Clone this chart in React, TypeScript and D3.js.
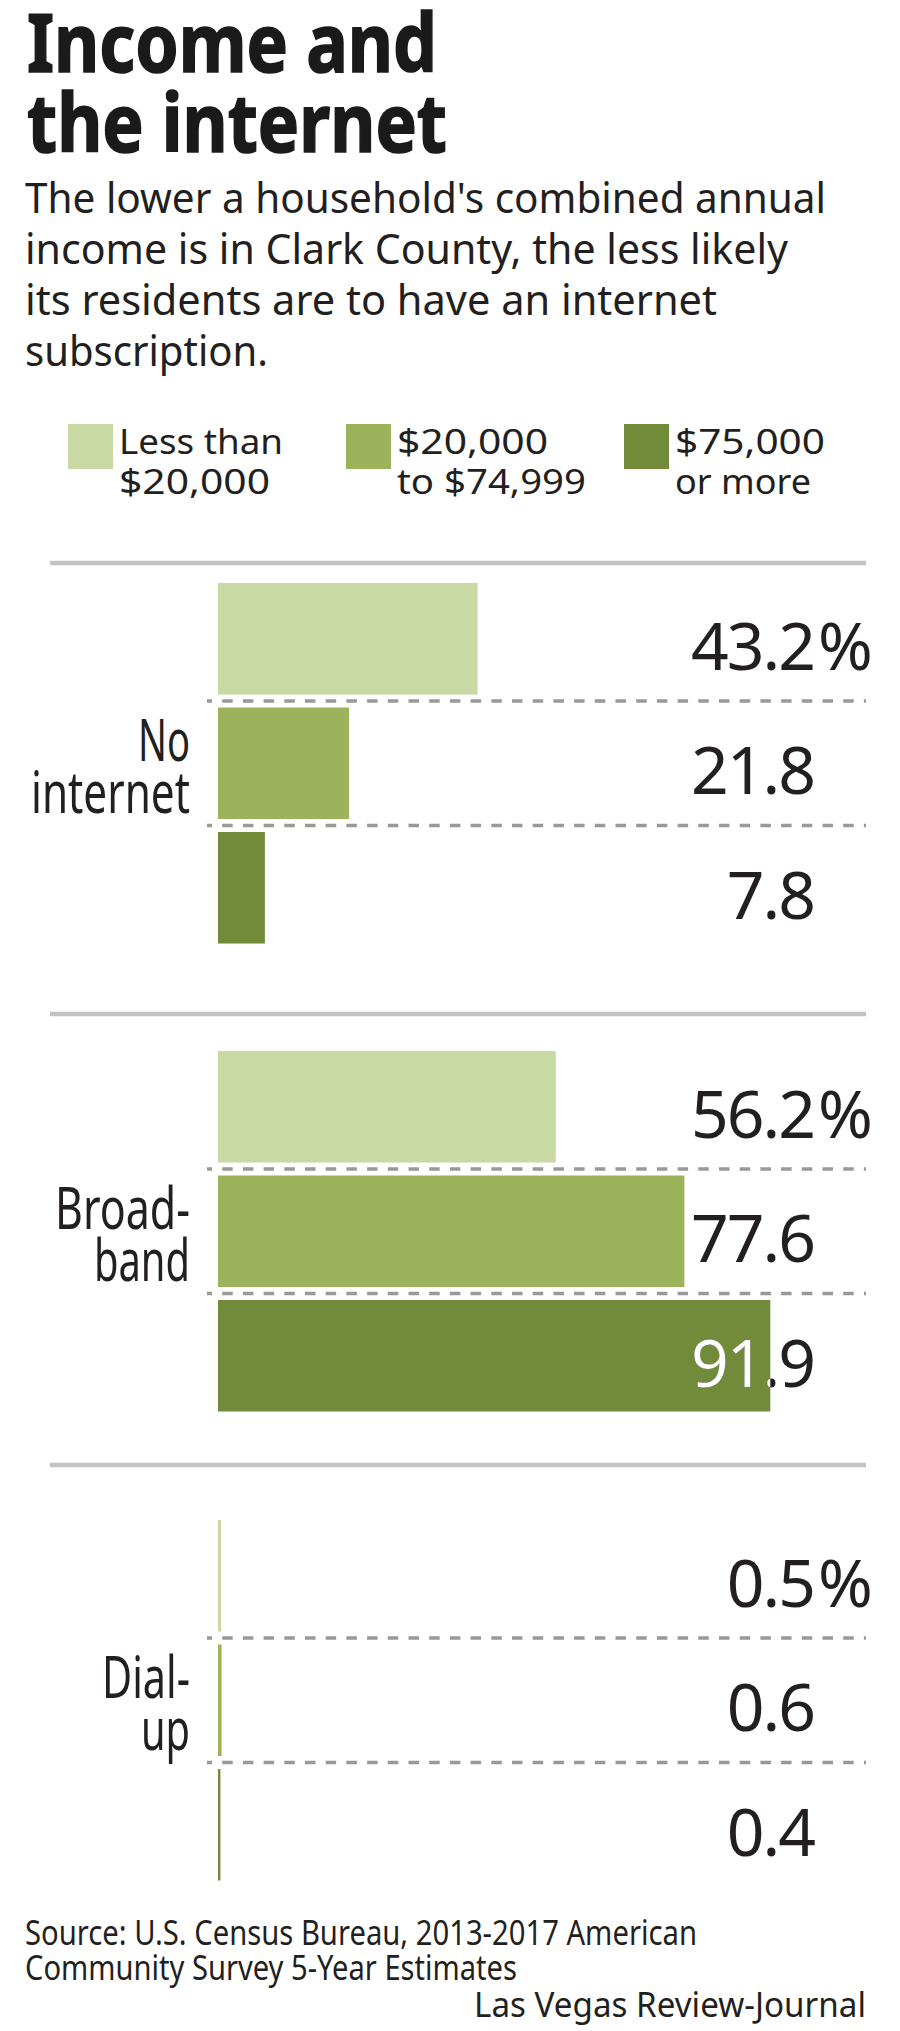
import React from 'react';
import * as d3 from 'd3';

// chart data
const categories = ['No internet', 'Broadband', 'Dial-up'];
const categoryLabelLines = [['No', 'internet'], ['Broad-', 'band'], ['Dial-', 'up']];
const incomeGroups = ['Less than $20,000', '$20,000 to $74,999', '$75,000 or more'];
const legendLabelLines = [['Less than', '$20,000'], ['$20,000', 'to $74,999'], ['$75,000', 'or more']];
const lessThan20k = [43.2, 56.2, 0.5];
const from20kTo75k = [21.8, 77.6, 0.6];
const over75k = [7.8, 91.9, 0.4];
const groupColors = ['#c8d9a4', '#9db35b', '#728b3b'];

const titleLines = ['Income and', 'the internet'];
const subtitleLines = [
  "The lower a household's combined annual",
  'income is in Clark County, the less likely',
  'its residents are to have an internet',
  'subscription.',
];
const sourceLines = [
  'Source: U.S. Census Bureau, 2013-2017 American',
  'Community Survey 5-Year Estimates',
];
const credit = 'Las Vegas Review-Journal';

const W = 900;
const H = 2031;
const SANS = "'Noto Sans', 'Open Sans', sans-serif";
const INK = '#231f20';

// layout (measured widths of the condensed reference type)
const titleLen = [410, 420];
const subtitleLen = [801, 763, 692, 243];
const legendLen = [[164, 151], [151, 189], [150, 136]];
const categoryLen = [[52, 159], [135, 96], [88, 49]];
const sourceLen = [672, 492];
const ruleY = [563, 1014, 1465];
const barTop = [583, 1051, 1520];
const BAND_SPAN = 360.5;

const App = () => {
  const seriesValues = [lessThan20k, from20kTo75k, over75k];

  const x = d3.scaleLinear().domain([0, 100]).range([218, 819]);
  const legendX = d3.scaleBand().domain(incomeGroups).range([68, 902]);

  const groups = categories.map((cat, ci) => {
    const y = d3
      .scaleBand()
      .domain(incomeGroups)
      .range([barTop[ci], barTop[ci] + BAND_SPAN])
      .paddingInner(0.1044);
    return { cat, ci, y };
  });

  return (
    <svg
      width={W}
      height={H}
      style={{ position: 'absolute', left: 0, top: 0, display: 'block', background: '#fff' }}
      fontFamily={SANS}
    >
      {/* title */}
      <text
        fontSize={81}
        fontWeight={700}
        fill="#1a1a1a"
        stroke="#1a1a1a"
        strokeWidth={1.6}
      >
        {titleLines.map((t, i) => (
          <tspan key={t} x={27} y={72 + i * 80} textLength={titleLen[i]} lengthAdjust="spacingAndGlyphs">
            {t}
          </tspan>
        ))}
      </text>
      <text fontSize={42} fill={INK}>
        {subtitleLines.map((t, i) => (
          <tspan key={t} x={25} y={213 + i * 51} textLength={subtitleLen[i]} lengthAdjust="spacingAndGlyphs">
            {t}
          </tspan>
        ))}
      </text>

      {/* legend */}
      {incomeGroups.map((g, i) => {
        const lx = legendX(g) as number;
        return (
          <g key={g}>
            <rect x={lx} y={424} width={45} height={45} fill={groupColors[i]} />
            <text fontSize={35} fill={INK}>
              {legendLabelLines[i].map((line, li) => (
                <tspan
                  key={line}
                  x={lx + 51}
                  y={454 + li * 39.5}
                  textLength={legendLen[i][li]}
                  lengthAdjust="spacingAndGlyphs"
                >
                  {line}
                </tspan>
              ))}
            </text>
          </g>
        );
      })}

      <defs>
        {groups.map(({ ci, y }) =>
          incomeGroups.map((g, si) => (
            <clipPath id={`clip-${ci}-${si}`} key={`${ci}-${si}`}>
              <rect
                x={x(0)}
                y={y(g)}
                width={x(seriesValues[si][ci]) - x(0)}
                height={y.bandwidth()}
              />
            </clipPath>
          )),
        )}
      </defs>

      {groups.map(({ cat, ci, y }) => {
        const center = barTop[ci] + BAND_SPAN / 2;
        return (
          <g key={cat}>
            <line x1={50} x2={866} y1={ruleY[ci]} y2={ruleY[ci]} stroke="#c3c3c3" strokeWidth={4.5} />
            {/* dashed separators */}
            {incomeGroups.slice(0, 2).map((g) => {
              const yy = (y(g) as number) + y.bandwidth() + (y.step() - y.bandwidth()) / 2;
              return (
                <line
                  key={g}
                  x1={207}
                  x2={866}
                  y1={yy}
                  y2={yy}
                  stroke="#999"
                  strokeWidth={3.5}
                  strokeDasharray="10.5 10.2"
                  strokeDashoffset={5.5}
                />
              );
            })}
            {incomeGroups.map((g, si) => {
              const v = seriesValues[si][ci];
              const by = y(g) as number;
              const ty = by + y.bandwidth() / 2 + 31;
              const label = v.toFixed(1);
              return (
                <g key={g}>
                  <rect x={x(0)} y={by} width={x(v) - x(0)} height={y.bandwidth()} fill={groupColors[si]} />
                  <text x={814} y={ty} fontSize={66} letterSpacing={-2} fill={INK} textAnchor="end">
                    {label}
                  </text>
                  <text
                    x={814}
                    y={ty}
                    fontSize={66}
                    letterSpacing={-2}
                    fill="#fff"
                    textAnchor="end"
                    clipPath={`url(#clip-${ci}-${si})`}
                  >
                    {label}
                  </text>
                  {si === 0 && (
                    <text x={818} y={ty} fontSize={66} fill={INK}>
                      %
                    </text>
                  )}
                </g>
              );
            })}
            <text fontSize={58} fill={INK} textAnchor="end">
              {categoryLabelLines[ci].map((line, li) => (
                <tspan
                  key={line}
                  x={190}
                  y={center - 2 + li * 52}
                  textLength={categoryLen[ci][li]}
                  lengthAdjust="spacingAndGlyphs"
                >
                  {line}
                </tspan>
              ))}
            </text>
          </g>
        );
      })}

      {/* source */}
      <text fontSize={34} fill={INK}>
        {sourceLines.map((t, i) => (
          <tspan key={t} x={25} y={1945 + i * 35} textLength={sourceLen[i]} lengthAdjust="spacingAndGlyphs">
            {t}
          </tspan>
        ))}
      </text>
      <text
        x={866}
        y={2017}
        fontSize={34}
        fill={INK}
        textAnchor="end"
        textLength={392}
        lengthAdjust="spacingAndGlyphs"
      >
        {credit}
      </text>
    </svg>
  );
};

export default App;
